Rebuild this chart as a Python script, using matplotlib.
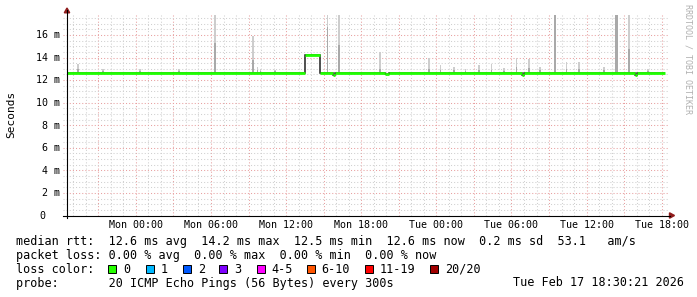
import numpy as np
import matplotlib
matplotlib.use('Agg')
import matplotlib.pyplot as plt
from matplotlib.patches import Rectangle, Polygon
from matplotlib.lines import Line2D

W, H = 697, 297

# ---------------- data ----------------
span_hours = 48.0  # Sun 18:30 -> Tue 18:30
xtick_hours = [5.5, 11.5, 17.5, 23.5, 29.5, 35.5, 41.5, 47.5]
xtick_labels = ['Mon 00:00', 'Mon 06:00', 'Mon 12:00', 'Mon 18:00',
                'Tue 00:00', 'Tue 06:00', 'Tue 12:00', 'Tue 18:00']
ytick_vals = [0, 2, 4, 6, 8, 10, 12, 14, 16]
ytick_labels = ['0', '2 m', '4 m', '6 m', '8 m', '10 m', '12 m', '14 m', '16 m']

# median rtt (ms) as steps: edges (hours) and values
med_t = [0, 18.98, 20.2, 21.25, 21.4, 25.4, 25.75, 36.35, 36.5, 45.35, 45.5, 47.8]
med_v = [12.6, 14.2, 12.6, 12.45, 12.6, 12.5, 12.6, 12.45, 12.6, 12.45, 12.6]

# smoke spikes (hours, max ms, dense-part ms)
spike_h = [0.88, 2.88, 5.84, 8.96, 11.84, 14.88, 15.2, 15.44, 16.6, 20.82, 21.7,
           24.98, 28.9, 29.84, 30.9, 31.84, 32.9, 33.9, 34.9, 35.9, 36.9, 37.8,
           39.0, 39.9, 40.9, 42.9, 43.85, 43.95, 44.9, 46.4]
spike_top = [13.4, 13.0, 13.0, 13.0, 17.8, 15.9, 13.2, 13.0, 12.9, 17.8, 17.8,
             14.5, 14.0, 13.3, 13.2, 13.0, 13.3, 13.4, 13.1, 14.0, 13.9, 13.2,
             17.8, 13.6, 13.6, 13.2, 17.8, 17.8, 17.8, 13.0]
spike_mid = [13.0, 12.8, 12.8, 12.8, 15.3, 13.75, 12.9, 12.8, 12.8, 16.7, 15.1,
             13.0, 13.0, 12.9, 12.9, 12.8, 12.9, 12.9, 12.8, 13.2, 13.1, 12.9,
             17.8, 13.0, 13.0, 12.9, 17.8, 17.8, 14.8, 12.8]
smoke_base = 12.5

legend_line1 = 'median rtt:  12.6 ms avg  14.2 ms max  12.5 ms min  12.6 ms now  0.2 ms sd  53.1   am/s'
legend_line2 = 'packet loss: 0.00 % avg  0.00 % max  0.00 % min  0.00 % now'
loss_labels = ['0', '1', '2', '3', '4-5', '6-10', '11-19', '20/20']
loss_colors = ['#26ff00', '#00b8ff', '#0059ff', '#7e00ff', '#ff00ff',
               '#ff5500', '#ff0000', '#a10000']
legend_line4 = 'probe:       20 ICMP Echo Pings (56 Bytes) every 300s'
date_text = 'Tue Feb 17 18:30:21 2026'

# ---------------- layout ----------------
MONO = 'DejaVu Sans Mono'
fig = plt.figure(figsize=(W / 100, H / 100), dpi=100, facecolor='white')

def fx(x):
    return x / W

def fy(y):
    return 1 - y / H

ax_l, ax_r, ax_b, ax_t = 67, 668, 215.5, 14.7
ax = fig.add_axes([fx(ax_l), fy(ax_b), (ax_r - ax_l) / W, (ax_b - ax_t) / H])
ax.set_xlim(0, span_hours)
ax.set_ylim(0, 17.8)
ax.axis('off')

minor_col = '#d0d0d0'
major_col = '#e8a0a0'
dash = (0, (1, 2))
ext = -4 / 12.52  # grid extends a little left of the axis

# vertical grid
for k in range(int(span_hours)):
    h = 0.5 + k
    is_major = abs(((h - 2.5) / 3) - round((h - 2.5) / 3)) < 1e-6
    ax.axvline(h, color=major_col if is_major else minor_col, lw=0.75,
               linestyle=dash, zorder=1)
# horizontal grid
for k in range(1, 36):
    v = 0.5 * k
    is_major = (k % 4 == 0)
    ax.hlines(v, ext, span_hours, color=major_col if is_major else minor_col,
              lw=0.75, linestyle=dash, zorder=1, clip_on=False)

# smoke
st = np.array(spike_top)
sm = np.array(spike_mid)
ax.bar(spike_h, st - smoke_base, bottom=smoke_base, width=0.13,
       color='#cdcdcd', linewidth=0, zorder=2, antialiased=False)
ax.bar(spike_h, sm - smoke_base, bottom=smoke_base, width=0.13,
       color='#a9a9a9', linewidth=0, zorder=2, antialiased=False)

# median
ax.stairs(med_v, med_t, color='#202020', lw=1.1, zorder=3, baseline=None)
ax.hlines(med_v, med_t[:-1], med_t[1:], color='#20ff00', lw=2.0, zorder=4,
          capstyle='butt')

# axes lines
fig.add_artist(Line2D([fx(67), fx(67)], [fy(218), fy(10)], color='black', lw=0.8))
fig.add_artist(Line2D([fx(63), fx(670)], [fy(215.5), fy(215.5)], color='black', lw=0.8))
arrow_col = '#901c1c'
fig.add_artist(Polygon([[fx(67), fy(8)], [fx(64.3), fy(12.8)], [fx(69.7), fy(12.8)]],
                       closed=True, color=arrow_col, transform=fig.transFigure))
fig.add_artist(Polygon([[fx(674.5), fy(215.5)], [fx(669.5), fy(212.8)], [fx(669.5), fy(218.2)]],
                       closed=True, color=arrow_col, transform=fig.transFigure))

# x tick labels
for h, lab in zip(xtick_hours, xtick_labels):
    xp = ax_l + h / span_hours * (ax_r - ax_l)
    fig.text(fx(xp), fy(228), lab, ha='center', va='baseline',
             fontsize=7.2, family=MONO, color='black')

# y tick labels
for v, lab in zip(ytick_vals, ytick_labels):
    ypx = ax_b - v / 17.8 * (ax_b - ax_t)
    xr = 45 if lab == '0' else 60
    fig.text(fx(xr), fy(ypx + 3.3), lab, ha='right', va='baseline',
             fontsize=7.2, family=MONO, color='black')

# y axis title
fig.text(fx(11), fy(114), 'Seconds', rotation=90, ha='center', va='center',
         fontsize=8, family=MONO, color='black')
# watermark
fig.text(fx(688), fy(59), 'RRDTOOL / TOBI OETIKER', rotation=270, ha='center',
         va='center', fontsize=6.0, family=MONO, color='#b0b0b0')

# legend
LF = 8.45
fig.text(fx(16), fy(245.3), legend_line1, ha='left', va='baseline', fontsize=LF, family=MONO)
fig.text(fx(16), fy(259), legend_line2, ha='left', va='baseline', fontsize=LF, family=MONO)
fig.text(fx(16), fy(272.8), 'loss color:', ha='left', va='baseline', fontsize=LF, family=MONO)
box_x = [108.3, 145.7, 182.7, 219.3, 256.7, 306.7, 365, 430]
for bx, lab, col in zip(box_x, loss_labels, loss_colors):
    fig.add_artist(Rectangle((fx(bx), fy(273.3)), 8 / W, 8 / H, transform=fig.transFigure,
                             facecolor=col, edgecolor='black', lw=0.7))
    fig.text(fx(bx + 15), fy(272.8), lab, ha='left', va='baseline', fontsize=LF, family=MONO)
fig.text(fx(16), fy(286.5), legend_line4, ha='left', va='baseline', fontsize=LF, family=MONO)
fig.text(fx(513.3), fy(286.5), date_text, ha='left', va='baseline', fontsize=LF, family=MONO)

fig.savefig('out.png', dpi=100, facecolor='white')
